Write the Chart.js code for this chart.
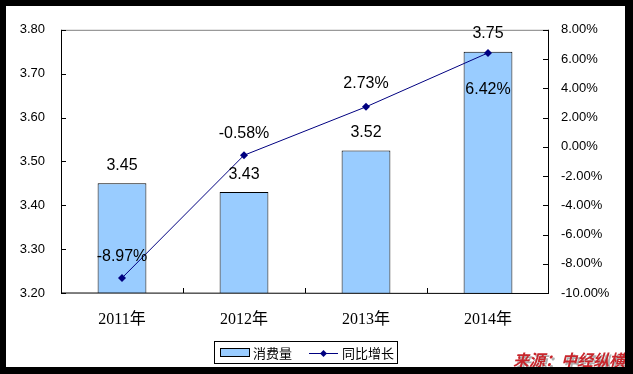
<!DOCTYPE html>
<html>
<head>
<meta charset="utf-8">
<script src="https://cdn.jsdelivr.net/npm/chart.js@4/dist/chart.umd.min.js"></script>
<style>
  body { margin: 0; background: #000; width: 633px; height: 374px; overflow: hidden; }
  #frame { position: absolute; left: 6px; top: 6px; width: 619px; height: 361px; background: #fff; }
  canvas { display: block; }
</style>
</head>
<body>
<div id="frame"><canvas id="myChart" width="619" height="361"></canvas></div>
<script>
'use strict';

var YEARS = ['2011年', '2012年', '2013年', '2014年'];
var CONSUMPTION = [3.45, 3.43, 3.525, 3.75];
var CONSUMPTION_LABELS = ['3.45', '3.43', '3.52', '3.75'];
var GROWTH = [-8.97, -0.58, 2.73, 6.42];
var LEFT_TICKS = [3.2, 3.3, 3.4, 3.5, 3.6, 3.7, 3.8];
var RIGHT_TICKS = [-10, -8, -6, -4, -2, 0, 2, 4, 6, 8];

var SANS = '"Liberation Sans", Arial, "Noto Sans CJK SC", sans-serif';
var SERIF = '"Liberation Serif", "Times New Roman", "Noto Sans CJK SC", serif';

// label offsets relative to each point (last growth label sits below its point)
var growthLabelShift = [-21, -22, -23, 37];

var extras = {
  id: 'extras',
  afterDraw: function (chart) {
    var ctx = chart.ctx;
    var area = chart.chartArea;
    var y = chart.scales.y, y1 = chart.scales.y1;
    ctx.save();

    // top border of plot area
    ctx.strokeStyle = '#808080';
    ctx.lineWidth = 1;
    ctx.beginPath();
    ctx.moveTo(area.left, area.top + 0.5);
    ctx.lineTo(area.right, area.top + 0.5);
    ctx.stroke();

    // axes lines
    ctx.strokeStyle = '#000';
    ctx.beginPath();
    ctx.moveTo(area.left + 0.5, area.top);
    ctx.lineTo(area.left + 0.5, area.bottom);
    ctx.lineTo(area.right, area.bottom + 0.5);
    ctx.moveTo(area.right - 0.5, area.top);
    ctx.lineTo(area.right - 0.5, area.bottom);
    ctx.stroke();

    // inside tick marks
    ctx.beginPath();
    LEFT_TICKS.forEach(function (v) {
      var py = Math.round(y.getPixelForValue(v)) + 0.5;
      ctx.moveTo(area.left, py);
      ctx.lineTo(area.left + 5, py);
    });
    RIGHT_TICKS.forEach(function (v) {
      var py = Math.round(y1.getPixelForValue(v)) + 0.5;
      ctx.moveTo(area.right, py);
      ctx.lineTo(area.right - 6, py);
    });
    var step = (area.right - area.left) / YEARS.length;
    for (var i = 1; i < YEARS.length; i++) {
      var px = Math.round(area.left + step * i) + 0.5;
      ctx.moveTo(px, area.bottom);
      ctx.lineTo(px, area.bottom - 5);
    }
    ctx.stroke();

    // data labels
    ctx.fillStyle = '#000';
    ctx.font = '16px ' + SANS;
    ctx.textAlign = 'center';
    ctx.textBaseline = 'middle';
    chart.getDatasetMeta(0).data.forEach(function (bar, i) {
      ctx.fillText(CONSUMPTION_LABELS[i], bar.x, bar.y - 18);
    });
    chart.getDatasetMeta(1).data.forEach(function (pt, i) {
      ctx.fillText(GROWTH[i].toFixed(2) + '%', pt.x, pt.y + growthLabelShift[i]);
    });

    // legend
    var lx = 208, ly = 335, lw = 183, lh = 22;
    ctx.fillStyle = '#fff';
    ctx.fillRect(lx, ly, lw, lh);
    ctx.strokeStyle = '#000';
    ctx.strokeRect(lx + 0.5, ly + 0.5, lw, lh);
    ctx.fillStyle = '#99ccff';
    ctx.fillRect(lx + 6, ly + 7, 29, 8);
    ctx.strokeRect(lx + 6.5, ly + 7.5, 29, 8);
    ctx.fillStyle = '#000';
    ctx.font = '13px "Noto Sans CJK SC", sans-serif';
    ctx.textAlign = 'left';
    ctx.fillText('消费量', lx + 39, ly + 12);
    ctx.strokeStyle = '#000080';
    ctx.beginPath();
    ctx.moveTo(lx + 95, ly + 12.5);
    ctx.lineTo(lx + 124, ly + 12.5);
    ctx.stroke();
    ctx.fillStyle = '#000080';
    ctx.beginPath();
    ctx.moveTo(lx + 109.5, ly + 9);
    ctx.lineTo(lx + 113, ly + 12.5);
    ctx.lineTo(lx + 109.5, ly + 16);
    ctx.lineTo(lx + 106, ly + 12.5);
    ctx.closePath();
    ctx.fill();
    ctx.fillStyle = '#000';
    ctx.fillText('同比增长', lx + 128, ly + 12);

    // source
    ctx.font = 'italic bold 16px "Noto Sans CJK SC", sans-serif';
    ctx.textAlign = 'right';
    ctx.fillStyle = 'rgba(120,120,120,0.6)';
    ctx.fillText('来源：中经纵横', 621, 356);
    ctx.fillStyle = '#c8262c';
    ctx.fillText('来源：中经纵横', 619, 354);

    ctx.restore();
  }
};

new Chart(document.getElementById('myChart'), {
  type: 'bar',
  data: {
    labels: YEARS,
    datasets: [
      {
        label: '消费量',
        data: CONSUMPTION,
        backgroundColor: '#99ccff',
        borderColor: '#000',
        borderWidth: 1,
        categoryPercentage: 1,
        barPercentage: 0.4,
        yAxisID: 'y',
        order: 2
      },
      {
        type: 'line',
        label: '同比增长',
        data: GROWTH,
        borderColor: '#000080',
        backgroundColor: '#000080',
        borderWidth: 1,
        pointStyle: 'rectRot',
        pointRadius: 4,
        pointBorderWidth: 0,
        tension: 0,
        yAxisID: 'y1',
        order: 1
      }
    ]
  },
  options: {
    responsive: false,
    animation: false,
    layout: { padding: { left: 0, right: 0, top: 23, bottom: 0 } },
    plugins: { legend: { display: false }, tooltip: { enabled: false } },
    scales: {
      x: {
        grid: { display: false, drawTicks: false },
        border: { display: false },
        ticks: { color: '#000', font: { family: SERIF, size: 16 }, padding: 17 },
        afterFit: function (s) { s.height = 74; }
      },
      y: {
        position: 'left',
        min: 3.2,
        max: 3.8,
        grid: { display: false, drawTicks: false },
        border: { display: false },
        ticks: {
          stepSize: 0.1,
          color: '#000',
          font: { family: SANS, size: 13 },
          padding: 16,
          callback: function (v) { return v.toFixed(2); }
        },
        afterFit: function (s) { s.width = 55; }
      },
      y1: {
        position: 'right',
        min: -10,
        max: 8,
        grid: { display: false, drawTicks: false },
        border: { display: false },
        ticks: {
          stepSize: 2,
          color: '#000',
          font: { family: SANS, size: 13 },
          padding: 12,
          callback: function (v) { return v.toFixed(2) + '%'; }
        },
        afterFit: function (s) { s.width = 76; }
      }
    }
  },
  plugins: [extras]
});
</script>
</body>
</html>
